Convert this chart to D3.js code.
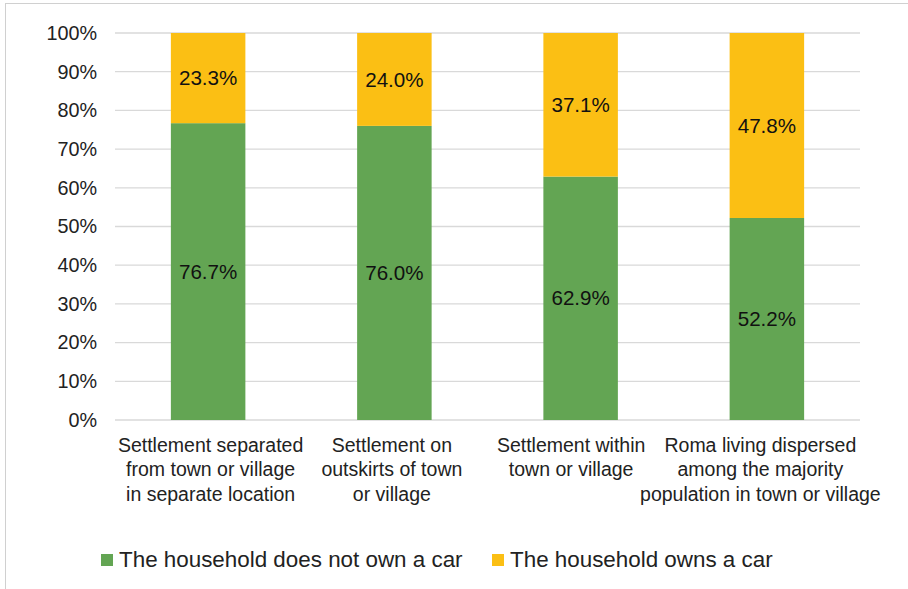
<!DOCTYPE html>
<html><head><meta charset="utf-8">
<script src="https://cdn.jsdelivr.net/npm/d3@7/dist/d3.min.js"></script>
<style>body{margin:0;background:#fff;}svg{display:block;font-family:"Liberation Sans",Arial,sans-serif;}</style>
</head><body><svg id="c" width="908" height="589"></svg>
<script>
const categories = [
  ["Settlement separated", "from town or village", "in separate location"],
  ["Settlement on", "outskirts of town", "or village"],
  ["Settlement within", "town or village"],
  ["Roma living dispersed", "among the majority", "population in town or village"]
];
const noCar = [76.7, 76.0, 62.9, 52.2];
const ownsCar = [23.3, 24.0, 37.1, 47.8];
const seriesNames = ["The household does not own a car", "The household owns a car"];
const colors = ["#63a553", "#fbbf14"];
const yTicks = [0,10,20,30,40,50,60,70,80,90,100];
// layout: small horizontal nudges of category label blocks (as in the reference)
const labelNudge = [2.5, -2.5, -9.5, -6.5];

const svg = d3.select("#c");
svg.append("rect").attr("x",5.5).attr("y",3.5).attr("width",920).attr("height",600)
  .attr("fill","none").attr("stroke","#d0d0d0").attr("stroke-width",1);

const x = d3.scaleBand().domain(d3.range(categories.length)).range([115,860]).paddingInner(0.6).paddingOuter(0.3);
const y = d3.scaleLinear().domain([0,100]).range([420,33]);

const g = svg.append("g");
g.selectAll("line.grid").data(yTicks).join("line")
  .attr("x1",115).attr("x2",860).attr("y1",d=>y(d)).attr("y2",d=>y(d))
  .attr("stroke","#d9d9d9").attr("stroke-width",1.3);

const yAxis = d3.axisLeft(y).tickValues(yTicks).tickFormat(d=>d+"%").tickSize(0).tickPadding(0);
const ya = svg.append("g").attr("transform","translate(97,0)").call(yAxis);
ya.select(".domain").remove();
ya.selectAll("text").attr("font-size",19.8).attr("fill","#222").attr("font-family","Liberation Sans, Arial, sans-serif");

const stacks = categories.map((c,i)=>[
  {s:0,y0:0,y1:noCar[i],v:noCar[i],i},
  {s:1,y0:noCar[i],y1:noCar[i]+ownsCar[i],v:ownsCar[i],i}
]).flat();

g.selectAll("rect.bar").data(stacks).join("rect")
  .attr("x",d=>x(d.i)).attr("width",x.bandwidth())
  .attr("y",d=>y(Math.min(100,d.y1))).attr("height",d=>y(d.y0)-y(Math.min(100,d.y1)))
  .attr("fill",d=>colors[d.s]);

g.selectAll("text.lbl").data(stacks).join("text")
  .attr("x",d=>x(d.i)+x.bandwidth()/2).attr("y",d=>(y(d.y0)+y(Math.min(100,d.y1)))/2)
  .attr("dy","0.35em").attr("text-anchor","middle").attr("font-size",20.6).attr("fill","#111")
  .text(d=>d.v.toFixed(1)+"%");

const cat = svg.append("g");
categories.forEach((lines,i)=>{
  const t = cat.append("text").attr("text-anchor","middle").attr("font-size",19.5).attr("fill","#222");
  lines.forEach((l,j)=>t.append("tspan").attr("x",x(i)+x.bandwidth()/2+labelNudge[i]).attr("y",451.5+j*24.5).text(l));
});

const leg = svg.append("g");
const legX = [101, 492];
seriesNames.forEach((n,i)=>{
  leg.append("rect").attr("x",legX[i]).attr("y",554).attr("width",12).attr("height",12).attr("fill",colors[i]);
  leg.append("text").attr("x",legX[i]+18).attr("y",567).attr("font-size",22.4).attr("fill","#222").text(n);
});
</script></body></html>
